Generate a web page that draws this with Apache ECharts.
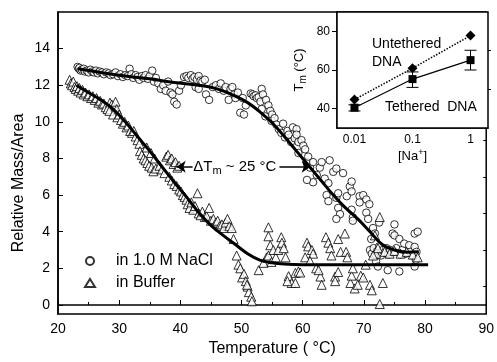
<!doctype html>
<html>
<head>
<meta charset="utf-8">
<script src="https://cdn.jsdelivr.net/npm/echarts@6/dist/echarts.min.js"></script>
<style>html,body{margin:0;background:#fff}#chart{width:497px;height:362px}</style>
</head>
<body>
<div id="chart"></div>
<script>
// main plot: relative mass vs temperature, [T (°C), value]
const naclPoints = [
  [23.2,13.0],[23.4,12.9],[23.5,12.95],[23.7,12.8],[23.9,12.85],[24.2,12.9],[24.4,12.75],[24.7,12.8],[25.0,12.7],[25.3,12.85],
  [25.6,12.75],[25.9,12.7],[26.2,12.8],[26.5,12.65],[26.8,12.75],[27.2,12.7],[27.5,12.6],[27.9,12.7],[28.3,12.65],[28.6,12.55],
  [29.0,12.6],[29.4,12.7],[29.8,12.5],[30.2,12.6],[30.6,12.45],[31.0,12.55],[31.4,12.5],[31.7,12.9],[32.0,12.6],[32.3,12.4],
  [32.7,12.55],[33.0,12.45],[33.3,12.3],[33.7,12.5],[34.0,12.4],[34.3,12.55],[34.7,12.35],[35.0,12.5],[35.4,12.8],[35.7,12.2],
  [36.0,12.4],[36.4,12.1],[36.8,11.8],[37.2,12.0],[37.6,11.7],[38.0,12.2],[38.4,11.6],[38.7,11.5],[39.0,11.1],[39.4,10.95],
  [39.8,11.7],[40.1,12.0],[40.6,12.45],[41.0,12.5],[41.3,12.4],[41.7,12.55],[42.0,12.35],[42.3,12.45],[42.7,12.3],[43.0,12.5],
  [43.3,12.25],[43.6,12.2],[44.0,12.3],[42.5,11.9],[43.0,11.8],[44.2,11.5],[44.7,11.2],[45.3,11.9],[45.8,12.0],[46.3,11.8],
  [46.6,12.1],[47.1,11.7],[47.4,11.9],[47.9,11.2],[48.2,11.8],[48.5,11.9],[48.8,11.5],[49.0,11.3],[49.4,11.6],[49.8,10.5],
  [50.2,11.3],[50.4,10.4],[50.7,10.9],[51.5,11.55],[51.8,11.5],[52.0,11.4],[52.3,11.45],[52.5,11.3],[52.8,11.35],[53.1,11.1],
  [53.3,11.8],[53.5,11.5],[53.3,10.7],[53.9,10.3],[54.0,11.2],[54.4,10.9],[54.7,10.6],[55.0,10.4],[54.9,10.05],[55.4,10.2],
  [55.7,9.85],[56.1,9.6],[56.5,9.4],[56.8,9.9],[57.1,9.15],[57.5,9.5],[57.7,9.3],[58.1,8.9],[58.4,9.7],[58.7,9.1],
  [59.0,9.6],[59.0,9.3],[59.3,8.9],[59.3,8.3],[59.8,9.0],[60.1,8.7],[60.4,8.5],[60.7,7.8],[60.9,8.1],[61.2,7.5],
  [61.7,7.8],[61.7,6.7],[60.7,6.83],[62.3,7.1],[62.8,7.5],[63.1,7.8],[63.6,6.9],[63.9,6.0],[64.2,6.65],[64.2,5.67],
  [64.4,7.9],[65.0,7.27],[65.5,5.85],[65.5,7.45],[65.8,6.1],[65.8,5.3],[66.1,4.96],[65.5,4.7],[66.6,7.2],[67.2,5.94],
  [67.7,6.47],[68.0,6.74],[68.0,6.2],[68.0,5.2],[68.2,4.78],[68.2,4.6],[69.3,5.94],[69.3,5.6],[69.9,6.0],[70.4,5.76],
  [70.4,5.04],[70.7,4.7],[70.9,5.5],[71.5,4.2],[71.2,3.6],[71.8,3.9],[72.0,2.37],[72.3,2.1],[71.0,3.0],[71.3,2.8],
  [71.6,3.1],[71.9,2.75],[72.2,2.95],[72.5,3.2],[72.8,2.7],[73.1,3.0],[73.4,2.85],[73.7,3.1],[73.9,1.9],[74.0,2.75],
  [74.3,3.0],[74.7,3.9],[75.0,3.8],[75.0,4.4],[75.0,2.9],[75.3,3.1],[75.8,3.6],[75.8,1.83],[76.0,2.75],[76.3,3.0],
  [76.6,3.35],[76.9,2.8],[77.4,3.26],[77.6,2.9],[78.0,2.7],[78.3,3.17],[78.3,3.9],[78.3,2.1],[78.5,2.46],[78.8,4.0],
  [78.6,2.9],[72.5,4.5]
];
const bufferPoints = [
  [21.9,12.3],[22.1,12.1],[22.3,12.0],[22.5,12.2],[22.7,11.9],[22.9,11.8],[23.1,11.95],[23.3,11.7],[23.5,11.85],[23.7,11.6],
  [24.0,11.75],[24.2,11.5],[24.5,11.6],[24.8,11.4],[25.1,11.5],[25.4,11.3],[25.7,11.4],[26.0,11.2],[26.3,11.3],[26.6,11.05],
  [26.9,11.15],[27.2,10.95],[27.5,11.0],[27.8,10.8],[28.5,11.05],[28.8,10.95],[29.1,10.85],[29.4,11.1],[29.6,10.7],[28.1,10.7],
  [28.4,10.6],[29.0,10.4],[29.7,10.25],[30.0,10.4],[30.3,10.1],[30.6,9.9],[30.9,10.0],[31.2,9.7],[31.5,9.8],[31.8,9.5],
  [32.1,9.4],[32.4,9.5],[32.7,9.2],[33.0,9.0],[33.3,8.8],[33.4,8.4],[33.7,8.2],[34.0,8.0],[34.3,7.9],[34.6,7.75],
  [34.9,7.6],[35.3,7.5],[35.6,7.3],[36.0,7.45],[34.5,8.6],[35.2,8.3],[35.8,8.0],[36.6,7.6],[37.0,7.4],[37.7,8.1],
  [38.0,8.2],[38.3,7.9],[38.6,8.0],[38.9,7.7],[39.2,7.8],[39.5,7.5],[39.8,7.6],[37.4,7.2],[38.2,7.0],[38.6,6.8],
  [39.0,6.6],[39.4,6.5],[39.8,6.3],[40.1,6.2],[40.4,6.0],[40.7,5.9],[41.0,5.75],[41.2,5.5],[41.5,5.3],[41.8,5.6],
  [42.1,5.2],[42.4,5.4],[42.8,6.1],[43.0,5.0],[43.3,4.9],[43.6,5.1],[44.0,4.8],[44.3,4.85],[44.7,5.3],[45.0,4.6],
  [45.4,4.7],[45.8,4.5],[46.1,4.6],[46.4,4.3],[46.8,4.4],[47.1,4.2],[47.4,4.5],[47.7,4.7],[48.0,4.3],[48.4,4.2],
  [48.7,3.6],[49.2,2.7],[49.5,2.2],[49.8,2.0],[50.1,1.5],[50.4,1.7],[50.7,1.3],[51.0,1.0],[51.2,0.7],[51.6,0.45],
  [51.7,0.2],[50.9,1.1],[52.8,1.9],[53.6,2.3],[54.1,2.6],[54.4,4.24],[54.4,3.75],[54.7,3.26],[54.4,2.7],[54.9,2.35],
  [55.2,3.0],[55.6,2.6],[56.0,3.0],[56.5,3.7],[56.6,3.4],[56.9,3.1],[57.2,2.6],[57.7,1.57],[58.2,1.2],[58.8,1.75],
  [58.8,1.2],[59.3,1.83],[57.5,1.3],[59.6,1.77],[60.4,2.6],[60.7,3.4],[60.9,3.2],[61.5,3.0],[61.7,2.8],[61.2,2.4],
  [62.2,2.0],[62.9,1.55],[63.1,1.1],[62.6,1.9],[63.8,3.7],[64.2,3.4],[64.5,3.1],[64.7,2.7],[65.3,1.55],[65.3,1.3],
  [65.8,3.6],[65.8,1.8],[66.2,2.9],[66.9,3.9],[67.1,2.9],[67.3,2.6],[67.8,1.2],[68.0,1.6],[68.2,2.0],[68.5,0.9],
  [69.0,1.1],[69.5,1.6],[69.9,1.5],[70.3,2.2],[71.0,1.1],[71.3,0.8],[71.8,3.8],[72.0,2.8],[72.3,3.1],[72.6,4.8],
  [72.6,0.05],[73.1,1.2],[73.4,2.9],[74.2,2.8],[75.0,2.95],[76.0,2.8],[77.0,2.9],[78.0,2.75],[78.8,2.6],[71.5,2.7]
];
const naclFit = [
  [23.3,12.9],[27,12.7],[31,12.5],[35,12.35],[39,12.15],[43,12.0],[46,11.8],[49,11.4],[51,11.05],[53,10.55],
  [55,9.95],[57,9.2],[59,8.4],[61,7.6],[63,6.8],[65,6.0],[67,5.3],[69,4.7],[71,4.0],[73,3.3],[75,3.0],[77,2.88],[79,2.9]
];
const bufferFit = [
  [23,12.0],[25,11.6],[27,11.2],[29,10.7],[31,10.0],[33,9.2],[35,8.4],[37,7.55],[39,6.7],[41,5.9],[43,5.05],
  [45,4.35],[47,3.8],[49,3.3],[51,2.8],[53,2.45],[55,2.3],[57,2.23],[60,2.2],[80.5,2.2]
];
const yTickLabels = [0, 2, 4, 6, 8, 10, 12, 14];
const yMinorTicks = [1, 3, 5, 7, 9, 11, 13, 15];

// inset: melting temperature vs [Na+]
const naConc = [0.01, 0.1, 1];
const tmUntethered = [44.7, 60.9, 77.8];
const tmTethered = [40.5, 55.3, 65.1];
const tmTetheredLow = [38.8, 51.0, 60.0];
const tmTetheredHigh = [42.0, 59.0, 70.2];
const insetYTicks = [40, 60, 80];
const insetYMinor = [50, 70];
const naMinorTicks = [0.006, 0.007, 0.008, 0.009, 0.02, 0.03, 0.04, 0.05, 0.06, 0.07, 0.08, 0.09,
  0.2, 0.3, 0.4, 0.5, 0.6, 0.7, 0.8, 0.9];

// annotation arrows (°C, value)
const deltaY = 7.55;
const leftArrow = [42.0, 39.4];
const rightArrow = [56.2, 61.3];
const deltaLabelX = 48.9;

const FONT = '"Liberation Sans", Arial, sans-serif';
const chart = echarts.init(document.getElementById('chart'));

const pointStyle = { color: '#fff', borderColor: '#000', borderWidth: 1 };

chart.setOption({
  animation: false,
  backgroundColor: '#fff',
  textStyle: { fontFamily: FONT, color: '#000' },
  grid: [
    { left: 58, right: 9, top: 12, bottom: 42, show: true, borderColor: '#000', borderWidth: 1.5, backgroundColor: 'transparent' },
    { left: 337, right: 9, top: 12, bottom: 234, show: true, borderColor: '#000', borderWidth: 1.5, backgroundColor: '#fff', z: 3 }
  ],
  legend: {
    orient: 'vertical', left: 84, top: 252, padding: 0, itemWidth: 10, itemHeight: 8, itemGap: 4,
    data: ['in 1.0 M NaCl', 'in Buffer'],
    textStyle: { fontFamily: FONT, fontSize: 16, color: '#000', padding: [0, 0, 0, 16], lineHeight: 18 }
  },
  xAxis: [
    {
      gridIndex: 0, type: 'value', min: 20, max: 90, interval: 10,
      axisLine: { lineStyle: { color: '#000', width: 1.5 } },
      axisTick: { inside: true, length: 5, lineStyle: { color: '#000' } },
      minorTick: { show: true, splitNumber: 2, length: 3, lineStyle: { color: '#000' } },
      splitLine: { show: false },
      axisLabel: { fontSize: 14, color: '#000', margin: 8, fontFamily: FONT },
      name: 'Temperature ( °C)', nameLocation: 'middle', nameGap: 25,
      nameTextStyle: { fontSize: 16, color: '#000', fontFamily: FONT }
    },
    {
      gridIndex: 1, type: 'log', min: 0.005, max: 2,
      axisLine: { lineStyle: { color: '#000', width: 1.5 } },
      axisTick: { inside: true, length: 5, lineStyle: { color: '#000' } },
      splitLine: { show: false },
      axisLabel: { fontSize: 12, color: '#000', margin: 6, showMinLabel: false, showMaxLabel: false, fontFamily: FONT },
      name: '{a|[Na}{p|+}{a|]}', nameLocation: 'middle', nameGap: 20,
      nameTextStyle: { rich: {
        a: { fontSize: 13, fontFamily: FONT, color: '#000', lineHeight: 16, verticalAlign: 'middle' },
        p: { fontSize: 9, fontFamily: FONT, color: '#000', lineHeight: 16, verticalAlign: 'top' }
      } }
    },
    {
      gridIndex: 1, type: 'log', min: 0.005, max: 2,
      axisLine: { show: false },
      axisTick: { inside: true, length: 3, customValues: naMinorTicks, lineStyle: { color: '#000' } },
      splitLine: { show: false },
      axisLabel: { show: false }
    }
  ],
  yAxis: [
    {
      gridIndex: 0, type: 'value', min: -0.5, max: 16,
      axisLine: { show: true, lineStyle: { color: '#000', width: 1.5 } },
      axisTick: { show: true, inside: true, length: 5, customValues: yTickLabels, lineStyle: { color: '#000' } },
      splitLine: { show: false },
      axisLabel: { fontSize: 14, color: '#000', margin: 8, customValues: yTickLabels, fontFamily: FONT }
    },
    {
      gridIndex: 0, type: 'value', min: -0.5, max: 16,
      axisLine: { show: false },
      axisTick: { show: true, inside: true, length: 3, customValues: yMinorTicks, lineStyle: { color: '#000' } },
      splitLine: { show: false },
      axisLabel: { show: false }
    },
    {
      gridIndex: 1, type: 'value', min: 30, max: 90,
      axisLine: { show: true, lineStyle: { color: '#000', width: 1.5 } },
      axisTick: { show: true, inside: false, length: 5, customValues: insetYTicks, lineStyle: { color: '#000' } },
      splitLine: { show: false },
      axisLabel: { fontSize: 12, color: '#000', margin: 7, customValues: insetYTicks, fontFamily: FONT },
      name: '{a|T}{s|m}{a| (°C)}', nameLocation: 'middle', nameGap: 29,
      nameTextStyle: { rich: {
        a: { fontSize: 13, fontFamily: FONT, color: '#000', lineHeight: 18, verticalAlign: 'middle' },
        s: { fontSize: 10, fontFamily: FONT, color: '#000', lineHeight: 18, verticalAlign: 'bottom' }
      } }
    },
    {
      gridIndex: 1, type: 'value', min: 30, max: 90,
      axisLine: { show: false },
      axisTick: { show: true, inside: false, length: 3, customValues: insetYMinor, lineStyle: { color: '#000' } },
      splitLine: { show: false },
      axisLabel: { show: false }
    }
  ],
  graphic: [
    { type: 'text', z: 100, x: 19, y: 183, rotation: Math.PI / 2,
      style: { text: 'Relative Mass/Area', align: 'center', verticalAlign: 'middle', font: '16px ' + FONT, fill: '#000' } },
    { type: 'text', z: 100, style: { text: 'Untethered', x: 372, y: 44, verticalAlign: 'middle', font: '14px ' + FONT, fill: '#000' } },
    { type: 'text', z: 100, style: { text: 'DNA', x: 372, y: 62, verticalAlign: 'middle', font: '14px ' + FONT, fill: '#000' } },
    { type: 'text', z: 100, style: { text: 'Tethered  DNA', x: 385, y: 107, verticalAlign: 'middle', font: '14px ' + FONT, fill: '#000' } }
  ],
  series: [
    {
      name: 'in 1.0 M NaCl', type: 'scatter', xAxisIndex: 0, yAxisIndex: 0,
      symbol: 'circle', symbolSize: 7.5, itemStyle: pointStyle, data: naclPoints, z: 2
    },
    {
      name: 'in Buffer', type: 'scatter', xAxisIndex: 0, yAxisIndex: 0,
      symbol: 'triangle', symbolSize: 9, itemStyle: pointStyle, data: bufferPoints, z: 2
    },
    {
      type: 'line', xAxisIndex: 0, yAxisIndex: 0, data: naclFit, smooth: 0.4, showSymbol: false,
      lineStyle: { color: '#000', width: 3 }, z: 5
    },
    {
      type: 'line', xAxisIndex: 0, yAxisIndex: 0, data: bufferFit, smooth: 0.4, showSymbol: false,
      lineStyle: { color: '#000', width: 3 }, z: 5,
      markLine: {
        silent: true, symbol: ['none', 'arrow'], symbolSize: 9,
        lineStyle: { color: '#000', width: 1.5, type: 'solid' },
        label: { show: false },
        data: [
          [{ coord: [leftArrow[0], deltaY] }, { coord: [leftArrow[1], deltaY] }],
          [{ coord: [rightArrow[0], deltaY] }, { coord: [rightArrow[1], deltaY] }]
        ]
      },
      markPoint: {
        silent: true, symbol: 'circle', symbolSize: 1, itemStyle: { color: 'rgba(0,0,0,0)' },
        label: {
          show: true, position: 'inside',
          formatter: '{a|ΔT}{s|m}{a| ~ 25 °C}',
          rich: {
            a: { fontSize: 15, fontFamily: FONT, color: '#000', lineHeight: 20, verticalAlign: 'middle' },
            s: { fontSize: 11, fontFamily: FONT, color: '#000', lineHeight: 20, verticalAlign: 'bottom' }
          }
        },
        data: [{ coord: [deltaLabelX, deltaY] }]
      }
    },
    {
      type: 'line', xAxisIndex: 1, yAxisIndex: 2, z: 10,
      data: naConc.map((c, i) => [c, tmUntethered[i]]),
      symbol: 'diamond', symbolSize: 10, itemStyle: { color: '#000' },
      lineStyle: { color: '#000', width: 1.5, type: 'dotted' }
    },
    {
      type: 'line', xAxisIndex: 1, yAxisIndex: 2, z: 10,
      data: naConc.map((c, i) => [c, tmTethered[i]]),
      symbol: 'rect', symbolSize: 8, itemStyle: { color: '#000' },
      lineStyle: { color: '#000', width: 1.2 }
    },
    {
      type: 'custom', xAxisIndex: 1, yAxisIndex: 2, z: 10,
      data: naConc.map((c, i) => [c, tmTetheredLow[i], tmTetheredHigh[i]]),
      encode: { x: 0, y: [1, 2] },
      renderItem: (params, api) => {
        const lo = api.coord([api.value(0), api.value(1)]);
        const hi = api.coord([api.value(0), api.value(2)]);
        const w = 6;
        const st = { stroke: '#000', lineWidth: 1 };
        return {
          type: 'group',
          children: [
            { type: 'line', shape: { x1: lo[0], y1: lo[1], x2: hi[0], y2: hi[1] }, style: st },
            { type: 'line', shape: { x1: lo[0] - w, y1: lo[1], x2: lo[0] + w, y2: lo[1] }, style: st },
            { type: 'line', shape: { x1: hi[0] - w, y1: hi[1], x2: hi[0] + w, y2: hi[1] }, style: st }
          ]
        };
      }
    }
  ]
});
</script>
</body>
</html>
